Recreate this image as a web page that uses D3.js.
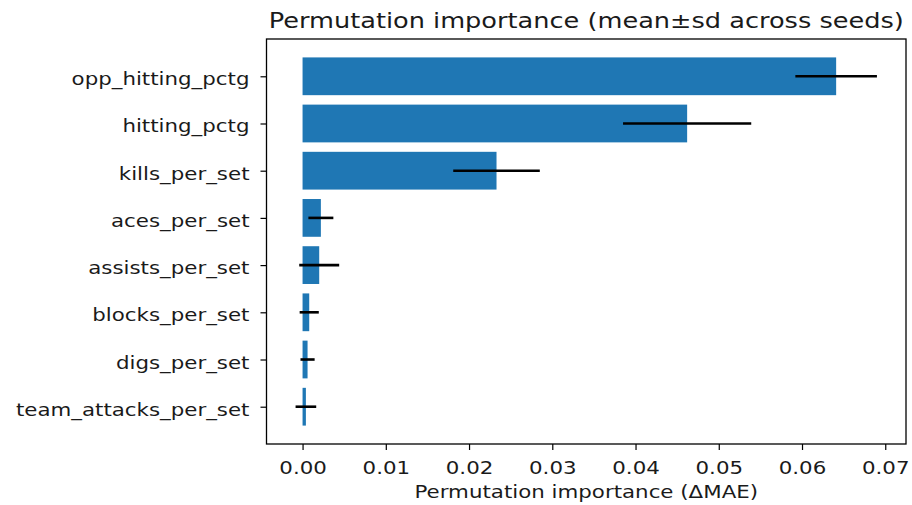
<!DOCTYPE html>
<html>
<head>
<meta charset="utf-8">
<script src="https://cdn.jsdelivr.net/npm/d3@7"></script>
<style>
    body { margin: 0; background: #fff; }
    text { font-family: "DejaVu Sans", sans-serif; fill: #1a1a1a; }
</style>
</head>
<body>
<svg id="chart" width="912" height="505"></svg>
<script>
// features, top to bottom
var features = ["opp_hitting_pctg", "hitting_pctg", "kills_per_set", "aces_per_set",
    "assists_per_set", "blocks_per_set", "digs_per_set", "team_attacks_per_set"];
var meanImp = [0.0641, 0.0462, 0.0233, 0.0022, 0.0020, 0.0008, 0.0006, 0.0004];
var sdImp = [0.0049, 0.0077, 0.0052, 0.0015, 0.0024, 0.00115, 0.00085, 0.00124];
var xTicks = [0, 0.01, 0.02, 0.03, 0.04, 0.05, 0.06, 0.07];

var svg = d3.select("#chart")
    , margin = {top: 39, right: 6, bottom: 61, left: 266.5}
    , width = +svg.attr("width") - margin.left - margin.right
    , height = +svg.attr("height") - margin.top - margin.bottom
    , g = svg.append("g").attr("transform", "translate(" + margin.left + "," + margin.top + ")")
    , stretchX = 1.22   // the reference text is a little wide
    ;

var data = features.map(function(f, i) { return {name: f, mean: meanImp[i], sd: sdImp[i]}; });

// matplotlib-style 5% margins around the data (incl. error bars)
var lo = d3.min(data, function(d) { return Math.min(0, d.mean - d.sd); })
    , hi = d3.max(data, function(d) { return d.mean + d.sd; })
    , pad = (hi - lo) * 0.05;

var x = d3.scaleLinear().domain([lo - pad, hi + pad]).range([0, width]);

// bars at integer positions, height 0.8, margins 5%
var n = features.length
    , yLo = -0.4 - 0.05 * (n - 1 + 0.8)
    , yHi = n - 1 + 0.4 + 0.05 * (n - 1 + 0.8);
var y = d3.scaleLinear().domain([yLo, yHi]).range([0, height]);

// widen a text around its anchor point
function stretch(sel) {
    sel.each(function() {
        var t = d3.select(this)
            , tx = +t.attr("x") || 0
            , ty = +t.attr("y") || 0;
        t.attr("x", 0).attr("y", 0)
            .attr("transform", "translate(" + tx + "," + ty + ") scale(" + stretchX + ",1)");
    });
}

g.selectAll("rect.bar")
    .data(data)
    .enter().append("rect")
    .attr("class", "bar")
    .attr("x", function(d) { return x(0); })
    .attr("y", function(d, i) { return y(i - 0.4); })
    .attr("width", function(d) { return x(d.mean) - x(0); })
    .attr("height", function(d, i) { return y(i + 0.4) - y(i - 0.4); })
    .attr("fill", "#1f77b4");

g.selectAll("line.err")
    .data(data)
    .enter().append("line")
    .attr("class", "err")
    .attr("x1", function(d) { return x(d.mean - d.sd); })
    .attr("x2", function(d) { return x(d.mean + d.sd); })
    .attr("y1", function(d, i) { return y(i); })
    .attr("y2", function(d, i) { return y(i); })
    .attr("stroke", "#000")
    .attr("stroke-width", 2.6);

// frame
g.append("rect")
    .attr("width", width)
    .attr("height", height)
    .attr("fill", "none")
    .attr("stroke", "#000")
    .attr("stroke-width", 1.3);

var xAxis = d3.axisBottom(x)
    .tickValues(xTicks)
    .tickFormat(d3.format(".2f"))
    .tickSize(6)
    .tickPadding(12);

var xg = g.append("g")
    .attr("transform", "translate(0," + height + ")")
    .call(xAxis);

var yAxis = d3.axisLeft(y)
    .tickValues(d3.range(n))
    .tickFormat(function(i) { return features[i]; })
    .tickSize(6)
    .tickPadding(11);

var yg = g.append("g").call(yAxis);

[xg, yg].forEach(function(a) {
    a.select(".domain").remove();
    a.selectAll(".tick line").attr("stroke", "#000").attr("stroke-width", 1.2);
    a.selectAll(".tick text").style("font-size", "17.5px").attr("fill", "#1a1a1a");
});
yg.selectAll(".tick text").attr("dy", "8.5px");
xg.selectAll(".tick text").call(stretch);
yg.selectAll(".tick text").call(stretch);

g.append("text")
    .attr("x", width / 2)
    .attr("y", height + 54)
    .attr("text-anchor", "middle")
    .style("font-size", "17.5px")
    .text("Permutation importance (\u0394MAE)")
    .call(stretch);

g.append("text")
    .attr("x", width / 2)
    .attr("y", -11.5)
    .attr("text-anchor", "middle")
    .style("font-size", "21px")
    .text("Permutation importance (mean\u00b1sd across seeds)")
    .call(stretch);
</script>
</body>
</html>
